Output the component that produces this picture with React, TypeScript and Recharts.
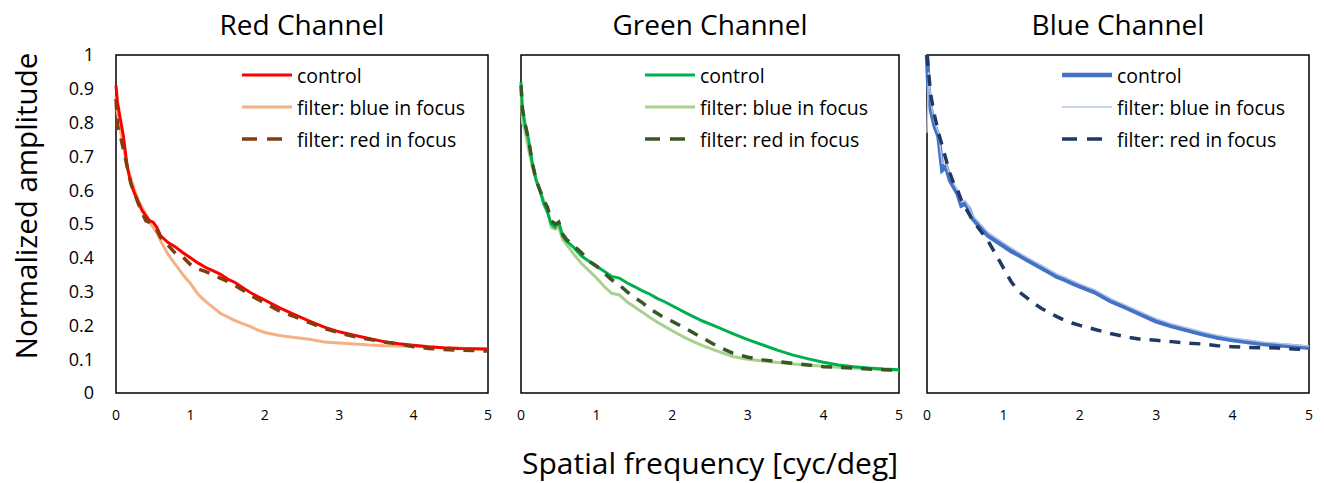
import React from 'react';
import { LineChart, Line, XAxis, YAxis, ReferenceArea, Legend } from 'recharts';

// spatial frequency samples (cyc/deg), shared by every series
const FREQ = [0, 0.02, 0.05, 0.1, 0.15, 0.2, 0.25, 0.3, 0.35, 0.4, 0.45, 0.5, 0.55, 0.6, 0.7, 0.8, 0.9, 1.0, 1.1, 1.2, 1.3, 1.4, 1.5, 1.6, 1.7, 1.8, 1.9, 2.0, 2.2, 2.4, 2.6, 2.8, 3.0, 3.2, 3.4, 3.6, 3.8, 4.0, 4.2, 4.4, 4.6, 4.8, 5.0];

const X_TICKS = [0, 1, 2, 3, 4, 5];
const Y_TICKS = [0, 0.1, 0.2, 0.3, 0.4, 0.5, 0.6, 0.7, 0.8, 0.9, 1];

// Red channel
const RED_CONTROL = [0.91, 0.86, 0.82, 0.76, 0.67, 0.62, 0.59, 0.565, 0.54, 0.525, 0.51, 0.505, 0.49, 0.465, 0.445, 0.432, 0.415, 0.4, 0.385, 0.372, 0.362, 0.352, 0.337, 0.327, 0.312, 0.298, 0.286, 0.275, 0.252, 0.232, 0.213, 0.195, 0.181, 0.171, 0.161, 0.152, 0.146, 0.141, 0.137, 0.134, 0.132, 0.131, 0.13];
const RED_BLUE_FOCUS = [0.88, 0.83, 0.79, 0.73, 0.67, 0.635, 0.6, 0.57, 0.55, 0.53, 0.505, 0.49, 0.473, 0.45, 0.41, 0.38, 0.35, 0.324, 0.293, 0.272, 0.254, 0.236, 0.225, 0.214, 0.205, 0.197, 0.187, 0.179, 0.17, 0.164, 0.159, 0.151, 0.148, 0.145, 0.142, 0.14, 0.139, 0.138, 0.136, 0.134, 0.133, 0.131, 0.129];
const RED_RED_FOCUS = [0.87, 0.79, 0.77, 0.72, 0.67, 0.62, 0.59, 0.56, 0.535, 0.51, 0.505, 0.495, 0.482, 0.46, 0.437, 0.413, 0.402, 0.38, 0.367, 0.36, 0.35, 0.34, 0.33, 0.318, 0.305, 0.29, 0.278, 0.266, 0.242, 0.226, 0.208, 0.191, 0.178, 0.167, 0.159, 0.151, 0.145, 0.137, 0.132, 0.129, 0.127, 0.126, 0.124];

// Green channel
const GREEN_CONTROL = [0.92, 0.84, 0.8, 0.75, 0.68, 0.63, 0.6, 0.56, 0.535, 0.5, 0.49, 0.505, 0.465, 0.45, 0.43, 0.405, 0.39, 0.375, 0.36, 0.345, 0.34, 0.326, 0.315, 0.303, 0.293, 0.28, 0.27, 0.258, 0.235, 0.213, 0.195, 0.176, 0.158, 0.142, 0.126, 0.112, 0.101, 0.091, 0.083, 0.078, 0.074, 0.071, 0.069];
const GREEN_BLUE_FOCUS = [0.9, 0.8, 0.78, 0.72, 0.67, 0.63, 0.6, 0.57, 0.54, 0.49, 0.485, 0.49, 0.455, 0.44, 0.41, 0.383, 0.362, 0.34, 0.315, 0.295, 0.29, 0.27, 0.255, 0.24, 0.224, 0.21, 0.197, 0.184, 0.16, 0.14, 0.124, 0.108, 0.1, 0.095, 0.09, 0.086, 0.082, 0.079, 0.076, 0.074, 0.072, 0.069, 0.067];
const GREEN_RED_FOCUS = [0.91, 0.84, 0.8, 0.75, 0.68, 0.63, 0.6, 0.57, 0.55, 0.51, 0.5, 0.505, 0.47, 0.455, 0.435, 0.415, 0.39, 0.375, 0.355, 0.335, 0.32, 0.3, 0.283, 0.268, 0.25, 0.236, 0.222, 0.212, 0.188, 0.163, 0.138, 0.118, 0.106, 0.098, 0.093, 0.088, 0.083, 0.078, 0.076, 0.074, 0.071, 0.069, 0.067];

// Blue channel
const BLUE_CONTROL = [1.0, 0.9, 0.84, 0.79, 0.76, 0.66, 0.67, 0.63, 0.61, 0.59, 0.555, 0.56, 0.545, 0.515, 0.49, 0.465, 0.45, 0.435, 0.42, 0.408, 0.395, 0.382, 0.37, 0.357, 0.344, 0.335, 0.325, 0.315, 0.298, 0.272, 0.253, 0.232, 0.212, 0.198, 0.186, 0.174, 0.164, 0.157, 0.151, 0.145, 0.141, 0.138, 0.134];
const BLUE_BLUE_FOCUS = [0.77, 0.95, 0.86, 0.8, 0.77, 0.68, 0.68, 0.64, 0.62, 0.6, 0.565, 0.57, 0.55, 0.525, 0.5, 0.475, 0.46, 0.445, 0.43, 0.416, 0.403, 0.39, 0.378, 0.365, 0.352, 0.343, 0.333, 0.323, 0.305, 0.28, 0.26, 0.24, 0.22, 0.205, 0.193, 0.181, 0.171, 0.163, 0.157, 0.151, 0.147, 0.143, 0.139];
const BLUE_RED_FOCUS = [1.0, 0.95, 0.88, 0.82, 0.77, 0.73, 0.69, 0.65, 0.62, 0.6, 0.57, 0.55, 0.53, 0.51, 0.48, 0.45, 0.41, 0.37, 0.33, 0.3, 0.283, 0.265, 0.25, 0.238, 0.226, 0.215, 0.207, 0.2, 0.188, 0.176, 0.166, 0.159, 0.156, 0.152, 0.148, 0.145, 0.14, 0.137, 0.135, 0.134, 0.133, 0.13, 0.129];

const FONT = '"Open Sans", sans-serif';
const CHART_H = 430;
const PLOT_TOP = 55;
const PLOT_BOTTOM = 393;
const DASH = '11 9';
const LEGEND_DASH = '15 10';

type Series = { key: string; name: string; values: number[]; color: string; width: number; dashed?: boolean };

type PanelDef = {
  title: string;
  left: number;
  width: number;
  plotLeft: number;
  plotRight: number;
  showY: boolean;
  legendLeft: number;
  series: Series[]; // legend order
  drawOrder: string[];
};

const panels: PanelDef[] = [
  {
    title: 'Red Channel', left: 0, width: 500, plotLeft: 116, plotRight: 488, showY: true, legendLeft: 242,
    series: [
      { key: 'control', name: 'control', values: RED_CONTROL, color: '#FF0000', width: 3 },
      { key: 'blue', name: 'filter: blue in focus', values: RED_BLUE_FOCUS, color: '#F4B183', width: 3 },
      { key: 'red', name: 'filter: red in focus', values: RED_RED_FOCUS, color: '#843C0C', width: 3.5, dashed: true },
    ],
    drawOrder: ['blue', 'control', 'red'],
  },
  {
    title: 'Green Channel', left: 510, width: 400, plotLeft: 521, plotRight: 899, showY: false, legendLeft: 645,
    series: [
      { key: 'control', name: 'control', values: GREEN_CONTROL, color: '#00B050', width: 3 },
      { key: 'blue', name: 'filter: blue in focus', values: GREEN_BLUE_FOCUS, color: '#A9D18E', width: 3 },
      { key: 'red', name: 'filter: red in focus', values: GREEN_RED_FOCUS, color: '#385723', width: 3.5, dashed: true },
    ],
    drawOrder: ['blue', 'control', 'red'],
  },
  {
    title: 'Blue Channel', left: 917, width: 400, plotLeft: 927, plotRight: 1309, showY: false, legendLeft: 1062,
    series: [
      { key: 'control', name: 'control', values: BLUE_CONTROL, color: '#4472C4', width: 4.5 },
      { key: 'blue', name: 'filter: blue in focus', values: BLUE_BLUE_FOCUS, color: '#B4C7E7', width: 1.5 },
      { key: 'red', name: 'filter: red in focus', values: BLUE_RED_FOCUS, color: '#203864', width: 3.5, dashed: true },
    ],
    drawOrder: ['control', 'blue', 'red'],
  },
];

const LegendBox = ({ series }: { series: Series[] }) => (
  <div style={{ display: 'flex', flexDirection: 'column', fontFamily: FONT }}>
    {series.map((s) => (
      <div key={s.key} style={{ display: 'flex', alignItems: 'center', height: 32 }}>
        <svg width={50} height={10}>
          <line x1={0} x2={50} y1={5} y2={5} stroke={s.color} strokeWidth={s.width} strokeDasharray={s.dashed ? LEGEND_DASH : undefined} />
        </svg>
        <span style={{ marginLeft: 5, fontSize: 19.5, color: '#000', whiteSpace: 'nowrap' }}>{s.name}</span>
      </div>
    ))}
  </div>
);

const Panel = ({ p }: { p: PanelDef }) => {
  const data = FREQ.map((f, i) => {
    const row: Record<string, number> = { f };
    p.series.forEach((s) => { row[s.key] = s.values[i]; });
    return row;
  });
  const yWidth = p.plotLeft - p.left;

  return (
    <div style={{ position: 'absolute', left: p.left, top: 0 }}>
      <LineChart
        width={p.width}
        height={CHART_H}
        data={data}
        margin={{ top: PLOT_TOP, right: p.left + p.width - p.plotRight, bottom: 0, left: p.showY ? 0 : yWidth }}
      >
        <XAxis
          type="number"
          dataKey="f"
          domain={[0, 5]}
          ticks={X_TICKS}
          axisLine={false}
          tickLine={false}
          tickSize={0}
          tickMargin={17}
          height={CHART_H - PLOT_BOTTOM}
          tick={{ fontSize: 14, fill: '#000', fontFamily: FONT }}
        />
        <YAxis
          type="number"
          domain={[0, 1]}
          ticks={Y_TICKS}
          hide={!p.showY}
          width={yWidth}
          axisLine={false}
          tickLine={false}
          tickSize={0}
          tickMargin={22}
          tick={{ fontSize: 18, fill: '#000', fontFamily: FONT }}
        />
        <ReferenceArea x1={0} x2={5} y1={0} y2={1} fill="none" stroke="#000" strokeWidth={1.5} />
        {p.drawOrder.map((k) => {
          const s = p.series.find((x) => x.key === k)!;
          return (
            <Line
              key={s.key}
              type="linear"
              dataKey={s.key}
              name={s.name}
              stroke={s.color}
              strokeWidth={s.width}
              strokeDasharray={s.dashed ? DASH : undefined}
              dot={false}
              activeDot={false}
              isAnimationActive={false}
            />
          );
        })}
        <Legend
          layout="vertical"
          align="center"
          verticalAlign="middle"
          wrapperStyle={{ left: p.legendLeft - p.left, top: 59, width: 'auto', height: 'auto' }}
          content={() => <LegendBox series={p.series} />}
        />
      </LineChart>
    </div>
  );
};

export default function App() {
  return (
    <div style={{ position: 'absolute', left: 0, top: 0, width: 1324, height: 483, background: '#fff' }}>
      {panels.map((p) => (
        <Panel key={p.title} p={p} />
      ))}
      <svg width={1324} height={483} style={{ position: 'absolute', left: 0, top: 0, pointerEvents: 'none' }}>
        {panels.map((p) => (
          <text key={p.title} x={(p.plotLeft + p.plotRight) / 2} y={35} textAnchor="middle" fontSize={28} fontFamily={FONT} fill="#000">
            {p.title}
          </text>
        ))}
        <text x={710} y={474} textAnchor="middle" fontSize={30} fontFamily={FONT} fill="#000">
          Spatial frequency [cyc/deg]
        </text>
        <text x={37} y={206} textAnchor="middle" fontSize={29.5} fontFamily={FONT} fill="#000" transform="rotate(-90, 37, 206)">
          Normalized amplitude
        </text>
      </svg>
    </div>
  );
}
